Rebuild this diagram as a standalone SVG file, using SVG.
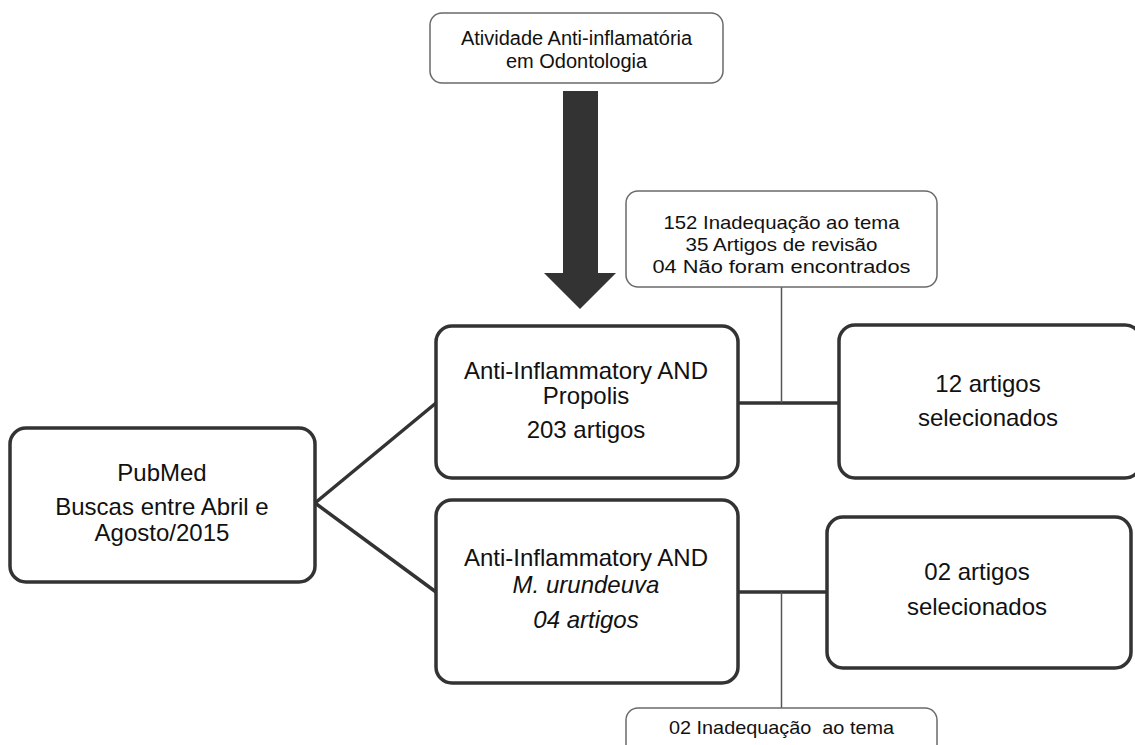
<svg xmlns="http://www.w3.org/2000/svg" width="1135" height="745" viewBox="0 0 1135 745">
<style>
.bg{fill:#ffffff}
.main{fill:#ffffff;stroke:#333333;stroke-width:3.5}
.thin{fill:#ffffff;stroke:#6a6a6a;stroke-width:1.5}
.conn{fill:none;stroke:#333333;stroke-width:3.5}
.cthin{fill:none;stroke:#555555;stroke-width:1.5}
.t{font-family:"Liberation Sans",Arial,sans-serif;font-size:24px;fill:#111111;text-anchor:middle}
.tt{font-family:"Liberation Sans",Arial,sans-serif;font-size:20px;fill:#111111;text-anchor:middle}
.n{font-family:"Liberation Sans Narrow","Arial Narrow","Liberation Sans",sans-serif;font-size:19px;fill:#111111;text-anchor:middle}
.i{font-style:italic}
</style>
<rect class="bg" x="0" y="0" width="1135" height="745"/>
<g id="connectors">
<path class="conn" d="M315,503 L436,403"/>
<path class="conn" d="M315,503 L436,592"/>
<path class="conn" d="M738,403 L839,403"/>
<path class="conn" d="M738,592 L827,592"/>
<path class="cthin" d="M781.5,287 L781.5,403"/>
<path class="cthin" d="M781.5,592 L781.5,708"/>
<path id="big-arrow" fill="#333333" d="M563,91 L598,91 L598,273 L616,273 L580,309 L544,273 L563,273 Z"/>
</g>
<g id="top">
<rect class="thin" x="430" y="13" width="293" height="70" rx="12"/>
<text class="tt" x="576.5" y="45">Atividade Anti-inflamatória</text>
<text class="tt" x="576.5" y="68">em Odontologia</text>
</g>
<g id="excl1">
<rect class="thin" x="626" y="191" width="311" height="96" rx="12"/>
<text class="n" x="781.5" y="229" textLength="236" lengthAdjust="spacingAndGlyphs">152 Inadequação ao tema</text>
<text class="n" x="781.5" y="251" textLength="192" lengthAdjust="spacingAndGlyphs">35 Artigos de revisão</text>
<text class="n" x="781.5" y="273" textLength="258" lengthAdjust="spacingAndGlyphs">04 Não foram encontrados</text>
</g>
<g id="pubmed">
<rect class="main" x="10" y="428" width="305" height="154" rx="16"/>
<text class="t" x="162" y="481">PubMed</text>
<text class="t" x="162" y="515">Buscas entre Abril e</text>
<text class="t" x="162" y="541">Agosto/2015</text>
</g>
<g id="propolis">
<rect class="main" x="436" y="326" width="302" height="152" rx="16"/>
<text class="t" x="586" y="379">Anti-Inflammatory AND</text>
<text class="t" x="586" y="404">Propolis</text>
<text class="t" x="586" y="438">203 artigos</text>
</g>
<g id="urundeuva">
<rect class="main" x="436" y="500" width="302" height="183" rx="16"/>
<text class="t" x="586" y="566">Anti-Inflammatory AND</text>
<text class="t i" x="586" y="593">M. urundeuva</text>
<text class="t i" x="586" y="628">04 artigos</text>
</g>
<g id="sel12">
<rect class="main" x="839" y="325" width="302" height="153" rx="16"/>
<text class="t" x="988" y="392">12 artigos</text>
<text class="t" x="988" y="426">selecionados</text>
</g>
<g id="sel02">
<rect class="main" x="827" y="517" width="304" height="151" rx="16"/>
<text class="t" x="977" y="580">02 artigos</text>
<text class="t" x="977" y="615">selecionados</text>
</g>
<g id="excl2">
<rect class="thin" x="626" y="708" width="311" height="60" rx="12"/>
<text class="n" x="781.5" y="734" textLength="225" lengthAdjust="spacingAndGlyphs" xml:space="preserve">02 Inadequação  ao tema</text>
</g>
</svg>
